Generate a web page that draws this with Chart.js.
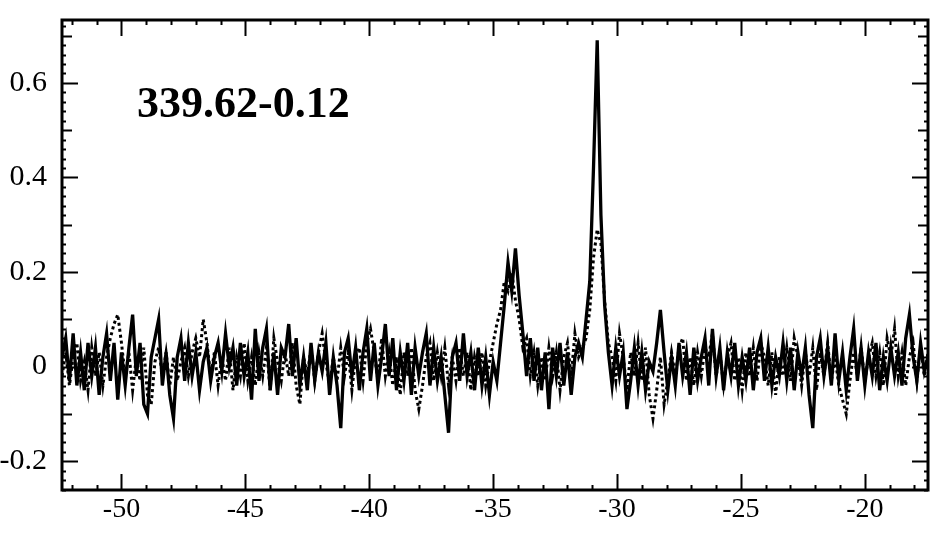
<!DOCTYPE html>
<html lang="en">
<head>
    <meta charset="UTF-8">
    <title>339.62-0.12</title>
    <script src="https://cdn.jsdelivr.net/npm/chart.js"></script>
    <style>
        body { margin: 0; background: #fff; }
        #wrap { width: 935px; height: 539px; }
    </style>
</head>
<body>
    <div id="wrap"><canvas id="spec"></canvas></div>

    <script>
        // velocity channels: first channel and channel width (km/s)
        const v0 = -52.4;
        const dv = 0.15;

        // solid spectrum
        const solid = [
             0.02,  0.06, -0.03,  0.07, -0.04,  0.03, -0.05,  0.05, -0.02,  0.04,
            -0.06,  0.02,  0.07, -0.03,  0.05, -0.07,  0.03, -0.04,  0.04,  0.11,
            -0.02,  0.05, -0.08, -0.10,  0.02,  0.06,  0.10, -0.04,  0.03, -0.06,
            -0.11,  0.02,  0.06, -0.03,  0.05, -0.02,  0.03, -0.05,  0.01,  0.04,
            -0.03,  0.02,  0.05, -0.01,  0.07,  0.00,  0.04, -0.04,  0.05, -0.02,
             0.03, -0.07,  0.08, -0.03,  0.04,  0.08, -0.05,  0.03, -0.06,  0.04,
             0.02,  0.09, -0.02,  0.06, -0.04,  0.02, -0.05,  0.05, -0.03,  0.03,
            -0.01,  0.05, -0.06,  0.02, -0.04, -0.13,  0.03,  0.06, -0.02,  0.04,
            -0.05,  0.03,  0.08, -0.03,  0.05, -0.04,  0.02,  0.09, -0.02,  0.06,
            -0.05,  0.03, -0.03,  0.05, -0.06,  0.04, -0.02,  0.03,  0.07, -0.04,
             0.04, -0.03,  0.02, -0.06, -0.14,  0.02,  0.05, -0.03,  0.07, -0.02,
             0.03, -0.05,  0.04, -0.04,  0.02, -0.06,  0.01, -0.03,  0.05,  0.13,
             0.22,  0.16,  0.25,  0.15,  0.07, -0.02,  0.06, -0.03,  0.04, -0.05,
             0.03, -0.09,  0.04, -0.02,  0.05, -0.04,  0.03, -0.06,  0.02,  0.05,
             0.02,  0.10,  0.18,  0.42,  0.69,  0.32,  0.13,  0.03, -0.04,  0.04,
            -0.02,  0.03, -0.09, -0.03,  0.04, -0.04,  0.03, -0.05,  0.01, -0.01,
             0.05,  0.12,  0.03, -0.05,  0.02, -0.04,  0.05, -0.02,  0.03, -0.06,
             0.04, -0.03,  0.02,  0.06, -0.04,  0.08, -0.02,  0.04, -0.05,  0.03,
            -0.02,  0.05, -0.04,  0.02, -0.03,  0.04, -0.05,  0.03,  0.06, -0.03,
             0.04, -0.04,  0.02, -0.02,  0.05, -0.03,  0.04, -0.05,  0.03, -0.02,
             0.04, -0.06, -0.13,  0.02,  0.06, -0.02,  0.04, -0.04,  0.07, -0.03,
             0.03, -0.05,  0.02,  0.08, -0.03,  0.04, -0.04,  0.03, -0.02,  0.05,
            -0.05,  0.02, -0.03,  0.04, -0.02,  0.03, -0.04,  0.06,  0.11,  0.02,
            -0.03,  0.05, -0.01,  0.02
        ];

        // dotted spectrum
        const dotted = [
            -0.02,  0.03, -0.04,  0.02,  0.05, -0.03,  0.01, -0.05,  0.04, -0.02,
             0.03, -0.04,  0.02,  0.06,  0.09,  0.11,  0.05, -0.02,  0.03, -0.05,
             0.02, -0.03,  0.04, -0.06, -0.08,  0.01,  0.04, -0.02,  0.03, -0.04,
             0.02, -0.03,  0.01,  0.04, -0.02,  0.03,  0.06,  0.02,  0.10,  0.05,
            -0.02,  0.03, -0.04,  0.02, -0.03,  0.04, -0.05,  0.02, -0.02,  0.05,
            -0.03,  0.02, -0.04,  0.03, -0.02,  0.04, -0.05,  0.06,  0.01, -0.03,
             0.03, -0.02,  0.05, -0.04, -0.08,  0.02, -0.02,  0.04, -0.03,  0.03,
             0.07,  0.01, -0.04,  0.02, -0.03,  0.04, -0.02,  0.03, -0.05,  0.02,
             0.04, -0.03,  0.05,  0.08,  0.03, -0.03,  0.06, -0.02,  0.03, -0.04,
             0.02, -0.06,  0.03, -0.02,  0.04, -0.05, -0.09, -0.04,  0.02,  0.05,
            -0.03,  0.03, -0.02,  0.04, -0.04,  0.02, -0.03,  0.04, -0.02,  0.03,
            -0.05,  0.02, -0.02,  0.03, -0.04,  0.01,  0.05,  0.09,  0.12,  0.18,
             0.16,  0.20,  0.14,  0.10,  0.04,  0.06, -0.02,  0.03, -0.04,  0.02,
            -0.03,  0.04, -0.02,  0.03, -0.05,  0.02,  0.05, -0.02,  0.07,  0.02,
             0.04,  0.06,  0.12,  0.23,  0.29,  0.26,  0.14,  0.05,  0.02, -0.03,
             0.07,  0.02, -0.05,  0.03, -0.02,  0.05, -0.03,  0.04, -0.06, -0.11,
            -0.05,  0.02, -0.08, -0.03,  0.03, -0.02,  0.04,  0.06, -0.03,  0.02,
            -0.04,  0.03, -0.02,  0.04,  0.02,  0.07, -0.02,  0.03, -0.04,  0.02,
             0.05, -0.03,  0.02, -0.05,  0.03, -0.02,  0.04, -0.03,  0.05,  0.02,
            -0.04,  0.03, -0.06,  0.02, -0.02,  0.04, -0.03,  0.06,  0.02, -0.04,
             0.03, -0.02,  0.04, -0.05,  0.03, -0.02,  0.05, -0.03,  0.02, -0.04,
            -0.07, -0.10, -0.03,  0.03, -0.02,  0.04, -0.03,  0.02,  0.05, -0.02,
             0.03, -0.04,  0.06,  0.02,  0.08, -0.02,  0.03, -0.04,  0.02,  0.05,
            -0.03,  0.04, -0.02,  0.03
        ];

        const xTicks = [-50, -45, -40, -35, -30, -25, -20];
        const yTicks = [-0.2, 0, 0.2, 0.4, 0.6];
        const sourceName = '339.62-0.12';

        const toPoints = arr => arr.map((y, i) => ({ x: v0 + i * dv, y: y }));

        const serif = '"Liberation Serif", "Times New Roman", serif';

        // frame, inward ticks on all four sides, and the source label
        const framePlugin = {
            id: 'frame',
            afterDatasetsDraw(chart) {
                const ctx = chart.ctx;
                const a = chart.chartArea;
                const xs = chart.scales.x;
                const ys = chart.scales.y;
                ctx.save();
                ctx.strokeStyle = '#000';

                // x ticks: major every 5, minor every 1
                ctx.lineWidth = 2;
                for (let v = Math.ceil(xs.min); v <= xs.max; v++) {
                    const px = Math.round(xs.getPixelForValue(v)) + 0.5;
                    const len = (v % 5 === 0) ? 16 : 5;
                    ctx.beginPath();
                    ctx.moveTo(px, a.bottom); ctx.lineTo(px, a.bottom - len);
                    ctx.moveTo(px, a.top); ctx.lineTo(px, a.top + len);
                    ctx.stroke();
                }

                // y ticks: major every 0.2, middle every 0.1, minor every 0.02
                for (let k = Math.ceil(ys.min * 50); k <= ys.max * 50; k++) {
                    const py = Math.round(ys.getPixelForValue(k / 50)) + 0.5;
                    let len = 4;
                    if (k % 10 === 0) len = 16;
                    else if (k % 5 === 0) len = 10;
                    ctx.beginPath();
                    ctx.moveTo(a.left, py); ctx.lineTo(a.left + len, py);
                    ctx.moveTo(a.right, py); ctx.lineTo(a.right - len, py);
                    ctx.stroke();
                }

                ctx.lineWidth = 3;
                ctx.strokeRect(a.left, a.top, a.right - a.left, a.bottom - a.top);

                ctx.fillStyle = '#000';
                ctx.font = 'bold 44px ' + serif;
                ctx.textBaseline = 'alphabetic';
                ctx.textAlign = 'left';
                ctx.fillText(sourceName, 137, 117);
                ctx.restore();
            }
        };

        new Chart(document.getElementById('spec'), {
            type: 'line',
            data: {
                datasets: [
                    {
                        label: 'solid',
                        data: toPoints(solid),
                        borderColor: '#000',
                        borderWidth: 3.3,
                        pointRadius: 0,
                        tension: 0
                    },
                    {
                        label: 'dotted',
                        data: toPoints(dotted),
                        borderColor: '#000',
                        borderWidth: 3,
                        borderDash: [3, 3],
                        pointRadius: 0,
                        tension: 0
                    }
                ]
            },
            options: {
                responsive: true,
                maintainAspectRatio: false,
                animation: false,
                layout: { padding: { top: 20, right: 7, left: 0, bottom: 0 } },
                plugins: {
                    legend: { display: false },
                    tooltip: { enabled: false }
                },
                scales: {
                    x: {
                        type: 'linear',
                        min: -52.4,
                        max: -17.45,
                        grid: { display: false, drawTicks: false },
                        border: { display: false },
                        afterBuildTicks: s => { s.ticks = xTicks.map(v => ({ value: v })); },
                        afterFit: s => { s.height = 49; s.paddingLeft = 0; s.paddingRight = 0; },
                        ticks: {
                            color: '#000',
                            padding: 3,
                            font: { family: serif, size: 28 },
                            callback: v => String(v)
                        }
                    },
                    y: {
                        type: 'linear',
                        min: -0.261,
                        max: 0.733,
                        grid: { display: false, drawTicks: false },
                        border: { display: false },
                        afterBuildTicks: s => { s.ticks = yTicks.map(v => ({ value: v })); },
                        afterFit: s => { s.width = 62; s.paddingTop = 0; s.paddingBottom = 0; },
                        ticks: {
                            color: '#000',
                            padding: 15,
                            font: { family: serif, size: 30 },
                            callback: v => String(v)
                        }
                    }
                }
            },
            plugins: [framePlugin]
        });
    </script>
</body>
</html>
